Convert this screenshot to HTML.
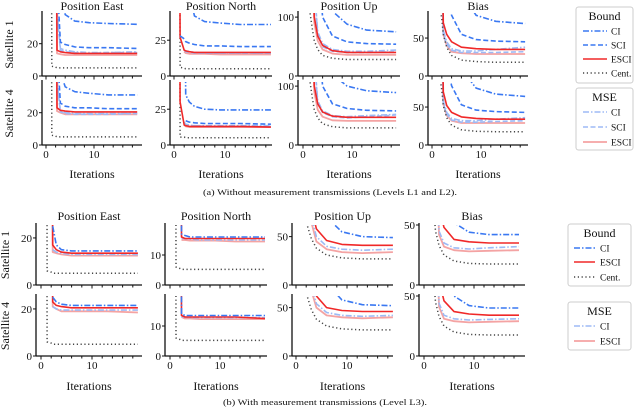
<!DOCTYPE html>
<html><head><meta charset="utf-8">
<style>
html,body{margin:0;padding:0;background:#fff;}
svg{display:block;font-family:"Liberation Serif",serif;}
</style></head>
<body>
<svg id="fig" width="640" height="408" viewBox="0 0 640 408" xmlns="http://www.w3.org/2000/svg"></svg>
<script>
const n = null;
const iterations = [1,1.2,2,2.3,3,4,6,9,13,19];
// (a) without measurement transmissions
const aEastS1 = {ci:[n,n,n,n,60,38,34,33,32.5,32], sci:[n,n,n,60,21,19.5,18,17.5,17.5,17], esci:[n,n,200,16,15,14.5,14,14,14,14], cent:[300,6,5.5,5,5,5,5,5,5,5], mci:[n,n,n,40,17,16,15,14.5,14.5,15], msci:[n,n,n,40,16,15,14.5,14,14.5,14.5], mesci:[n,n,200,14,13.5,13,13,13,13,13]};
const aEastS4 = {ci:[n,n,n,n,45,36,33,32,31,31], sci:[n,n,n,60,26,24,23,23,22.5,22.5], esci:[n,n,200,23,21.5,21,20.5,20.5,20.5,20.5], cent:[300,6,5.5,5,5,5,5,5,5,5], mci:[n,n,n,40,21,20,19.5,19.5,19.5,19.5], msci:[n,n,n,40,20.5,19.5,19,19,19,19.5], mesci:[n,n,200,21,20,19,19,19,19,19]};
const aNorthS1 = {ci:[n,n,n,n,60,42,38,37,36,36], sci:[n,28,26,24,23,22,21,21,20.5,20.5], esci:[200,27,18,17.5,17,16.5,16.5,16.5,16.5,16.5], cent:[300,6,5.5,5,5,5,5,5,5,5], mci:[n,n,18,17.5,17,16.5,16,16,16,16], msci:[n,n,18,17,16.5,16,16,16,16,16], mesci:[n,n,17,16,15.5,15.5,15.5,15,15,15]};
const aNorthS4 = {ci:[n,n,200,35,30,27,25,24.5,24.5,24.5], sci:[n,n,n,17,16,15.5,15,15,15,14.5], esci:[200,30,14,13.5,13,13,13,13,13,12.5], cent:[300,5.5,5.5,5,5,5,5,5,5,5], mci:[n,n,16,14.5,14,13.5,13.5,13.5,13.5,13.5], msci:[n,n,15,14,13.5,13.5,13,13,13,13], mesci:[n,n,14,13,12.5,12.5,12.5,12.5,12.5,12.5]};
const aUpS1 = {ci:[n,n,n,n,n,200,110,88,78,75], sci:[n,n,n,n,200,100,68,58,55,54], esci:[n,n,200,100,68,52,43,40,40,40], cent:[300,120,75,60,45,35,30,28,28,28], mci:[n,n,n,150,75,55,45,42,42,44], msci:[n,n,n,150,70,50,42,40,40,41], mesci:[n,n,150,90,60,45,38,36,36,36]};
const aUpS4 = {ci:[n,n,n,n,n,200,120,100,92,89], sci:[n,n,n,n,200,100,70,62,59,58], esci:[n,n,200,100,70,56,49,47,47,47], cent:[300,120,75,60,46,36,31,29,29,29], mci:[n,n,n,150,75,58,50,48,50,52], msci:[n,n,n,150,70,55,48,46,48,51], mesci:[n,n,150,90,60,48,42,41,41,41]};
const aBiasS1 = {ci:[n,n,n,n,n,n,110,80,72,69], sci:[n,n,n,n,110,80,55,48,46,45], esci:[n,n,200,70,55,45,38,36,35,35], cent:[300,110,75,55,38,27,21,19,18,18], mci:[n,n,150,60,45,36,33,33,35,38], msci:[n,n,150,55,42,34,31,31,31,32], mesci:[n,n,150,55,40,32,30,29,29,29]};
const aBiasS4 = {ci:[n,n,n,n,n,n,100,75,67,64], sci:[n,n,n,n,110,78,53,46,44,43], esci:[n,n,200,70,52,43,37,35,34,34], cent:[300,110,72,52,36,26,20,18,17.5,17.5], mci:[n,n,150,58,43,35,32,32,34,36], msci:[n,n,150,54,41,33,30,30,31,32], mesci:[n,n,150,54,39,32,29,29,29,29]};
// (b) with measurement transmissions
const bEastS1 = {ci:[n,n,n,25,17,15,14.5,14.5,14.5,14.5], esci:[n,n,200,17,15,14,13.5,13.5,13.5,13.5], cent:[300,6,5.5,5,5,5,5,5,5,5], mci:[n,n,n,15,14,13.5,13,13,13,13], mesci:[n,n,200,14,13.5,13,12.5,12.5,12.5,12.5]};
const bEastS4 = {ci:[n,n,n,25,23,22,21.5,21.5,21.5,21.5], esci:[n,n,200,23,21.5,21,20.5,20.5,20.5,20.5], cent:[300,6,5.5,5,5,5,5,5,5,5], mci:[n,n,n,21,20,19.5,19.5,19.5,19.5,19.5], mesci:[n,n,200,21,20,19,19,19,19,18.5]};
const bNorthS1 = {ci:[n,n,200,17,16.5,16,16,16,16,16], esci:[n,n,200,16,15.5,15.5,15.5,15.5,15.5,15.5], cent:[300,6,5.5,5.2,5.2,5.2,5.2,5.2,5.2,5.2], mci:[n,n,n,15.5,15.5,15.3,15,15,15,15], mesci:[n,n,n,15,15,14.8,14.8,14.8,14.5,14.5]};
const bNorthS4 = {ci:[n,n,200,14,13.5,13.5,13.5,13.5,13.5,13.5], esci:[n,n,200,13.5,13,13,13,13,13,12.5], cent:[300,6,5.5,5.2,5.2,5.2,5.2,5.2,5.2,5.2], mci:[n,n,n,13,13,12.8,12.8,12.8,12.8,12.8], mesci:[n,n,n,13,12.5,12.5,12.3,12.3,12.3,12.3]};
const bUpS1 = {ci:[n,n,n,n,n,200,70,55,50,49], esci:[n,n,n,200,80,58,46,42,41,41], cent:[n,300,75,60,48,38,31,28,27,27], mci:[n,n,n,150,70,50,40,37,36,37], mesci:[n,n,n,150,65,45,37,34,33,34]};
const bUpS4 = {ci:[n,n,n,n,n,200,75,58,53,52], esci:[n,n,n,200,85,62,50,47,46,46], cent:[n,300,75,60,48,38,31,28,27,27], mci:[n,n,n,150,72,54,45,42,41,42], mesci:[n,n,n,150,68,50,42,40,39,40]};
const bBiasS1 = {ci:[n,n,n,n,n,200,52,44,42,42], esci:[n,n,n,200,65,48,38,36,35,35], cent:[300,80,60,45,33,25,20,18,17.5,17.5], mci:[n,n,n,150,45,35,31,30,31,32], mesci:[n,n,n,150,42,32,29,28,28.5,29]};
const bBiasS4 = {ci:[n,n,n,n,n,200,50,42,40,40], esci:[n,n,n,200,63,46,37,35,34,34], cent:[300,80,60,45,33,25,20,18,17.5,17.5], mci:[n,n,n,150,44,34,31,30,30.5,31], mesci:[n,n,n,150,41,31,29,28,28.5,29]};

const titlesA = ["Position East","Position North","Position Up","Bias"];
const yTicksA = [[0,20],[0,25],[0,100],[0,50]];
const yTicksB = [[0,20],[0,10],[0,50],[0,50]];
const xTickLabels = [0,10];

const svg = document.getElementById('fig');
const NS = "http://www.w3.org/2000/svg";
function mk(tag, attrs, parent){ const e=document.createElementNS(NS,tag); for(const k in attrs) e.setAttribute(k,attrs[k]); (parent||svg).appendChild(e); return e; }
function txt(x,y,s,size,anchor,parent){ const t=mk('text',{x:x,y:y,'font-size':size,'text-anchor':anchor||'middle',fill:'#111'},parent); t.textContent=s; return t; }

const styles = {
  ci:{c:'#3a78f2',d:'6,2,1.5,2',w:1.6},
  sci:{c:'#3a78f2',d:'5,2.5',w:1.6},
  esci:{c:'#f02828',d:'',w:1.6},
  cent:{c:'#444',d:'1.2,2.6',w:1.5},
  mci:{c:'#9dbaf5',d:'6,2,1.5,2',w:1.6},
  msci:{c:'#9dbaf5',d:'5,2.5',w:1.6},
  mesci:{c:'#f4a3a3',d:'',w:1.8}
};
const drawOrder = ['mesci','msci','mci','cent','esci','sci','ci'];
let clipId = 0;
function panel(name, p, data, yticks, showX){
  const g = mk('g',{});
  
  
  const ys = v => p.b - v/p.ymax*(p.b-p.t);
  const xs = v => p.x0 + v*(p.x10-p.x0)/10;
  const id = 'c'+(clipId++);
  const cp = mk('clipPath',{id:id},g);
  mk('rect',{x:p.l,y:p.t,width:p.r-p.l,height:p.b-p.t},cp);
  const lg = mk('g',{'clip-path':'url(#'+id+')'},g);
  drawOrder.forEach(k=>{
    if(!data[k]) return;
    const s=styles[k]; let d='';
    let pen=false;
    data[k].forEach((v,i)=>{
      if(v===null){pen=false;return;}
      d += (pen?'L':'M') + xs(iterations[i]).toFixed(1)+','+ys(v).toFixed(1);
      pen=true;
    });
    const path = mk('path',{d:d,fill:'none',stroke:s.c,'stroke-width':s.w,'stroke-dasharray':s.d,'stroke-linejoin':'round'},lg);
    
    
  });
  mk('line',{x1:p.l,y1:p.t-2,x2:p.l,y2:p.b,stroke:'#111','stroke-width':1.3},g);
  mk('line',{x1:p.l,y1:p.b,x2:p.r,y2:p.b,stroke:'#111','stroke-width':1.3},g);
  yticks.forEach(v=>{
    mk('line',{x1:p.l-3,y1:ys(v),x2:p.l,y2:ys(v),stroke:'#111','stroke-width':1},g);
    txt(p.l-4,ys(v)+4,String(v),11,'end',g);
  });
  for(let v=0; v<=18; v+=2){
    mk('line',{x1:xs(v),y1:p.b,x2:xs(v),y2:p.b+(v%10===0?3.5:2.5),stroke:'#111','stroke-width':1},g);
  }
  if(showX){
    xTickLabels.forEach(v=>txt(xs(v),p.b+13,String(v),11,'middle',g));
  }
}
const colA = [{l:42,r:142,x0:46,x10:94,ym:39},{l:170,r:272,x0:174,x10:225,ym:44},{l:298,r:400,x0:303,x10:352,ym:107},{l:428,r:528,x0:432,x10:481,ym:83}];
const colB = [{l:36,r:142,x0:41,x10:92,ym:25.5},{l:165,r:267,x0:170,x10:220,ym:20},{l:292,r:393,x0:296,x10:347,ym:62},{l:419,r:525,x0:424,x10:474,ym:50}];
const dataA = [[aEastS1,aEastS4],[aNorthS1,aNorthS4],[aUpS1,aUpS4],[aBiasS1,aBiasS4]];
const dataB = [[bEastS1,bEastS4],[bNorthS1,bNorthS4],[bUpS1,bUpS4],[bBiasS1,bBiasS4]];
const slug = ['east','north','up','bias'];
colA.forEach((c,i)=>{
  panel('panel-a-'+slug[i]+'-sat1',{l:c.l,r:c.r,x0:c.x0,x10:c.x10,t:13,b:76,ymax:c.ym},dataA[i][0],yTicksA[i],false);
  panel('panel-a-'+slug[i]+'-sat4',{l:c.l,r:c.r,x0:c.x0,x10:c.x10,t:82,b:145,ymax:c.ym},dataA[i][1],yTicksA[i],true);
  const t=txt((c.l+c.r)/2,10,titlesA[i],12);  
  const xl=txt((c.l+c.r)/2,178,'Iterations',12);  
});
colB.forEach((c,i)=>{
  panel('panel-b-'+slug[i]+'-sat1',{l:c.l,r:c.r,x0:c.x0,x10:c.x10,t:225,b:285,ymax:c.ym},dataB[i][0],yTicksB[i],false);
  panel('panel-b-'+slug[i]+'-sat4',{l:c.l,r:c.r,x0:c.x0,x10:c.x10,t:296,b:356,ymax:c.ym},dataB[i][1],yTicksB[i],true);
  const t=txt((c.l+c.r)/2,220,titlesA[i],12);  
  const xl=txt((c.l+c.r)/2,390,'Iterations',12);  
});
[[13,44.5,'Satellite 1'],[13,113.5,'Satellite 4'],[9,255,'Satellite 1'],[9,326,'Satellite 4']].forEach(r=>{
  const t=mk('text',{x:0,y:0,'font-size':12,'text-anchor':'middle',fill:'#111',transform:'translate('+r[0]+','+r[1]+') rotate(-90)'});
  t.textContent=r[2];
  
  
});
const capA=txt(330,195,'(a) Without measurement transmissions (Levels L1 and L2).',8.5);
capA.setAttribute('textLength','254'); capA.setAttribute('lengthAdjust','spacingAndGlyphs');
 
const capB=txt(325,405,'(b) With measurement transmissions (Level L3).',8.5);
capB.setAttribute('textLength','204'); capB.setAttribute('lengthAdjust','spacingAndGlyphs');
 

const labels = {ci:'CI',sci:'SCI',esci:'ESCI',cent:'Cent.',mci:'CI',msci:'SCI',mesci:'ESCI'};
function legend(name,x,y,w,h,title,keys,rowY,lx1,lx2,tx){
  const g=mk('g',{});
  
  
  mk('rect',{x:x,y:y,width:w,height:h,rx:2.5,fill:'#fff',stroke:'#ccc','stroke-width':1},g);
  txt(x+w/2,y+13,title,12,'middle',g);
  keys.forEach((k,i)=>{
    const s=styles[k]; const yy=rowY[i];
    mk('line',{x1:lx1,y1:yy,x2:lx2,y2:yy,stroke:s.c,'stroke-width':s.w,'stroke-dasharray':s.d},g);
    const t=txt(tx,yy+3.5,labels[k],9.5,'start',g);
    
    
  });
}
legend('legend-bound-a',576,7,57,76,'Bound',['ci','sci','esci','cent'],[31,45,59,73],583,607,611);
legend('legend-mse-a',576,88,57,62,'MSE',['mci','msci','mesci'],[112,127,142],583,607,611);
legend('legend-bound-b',568,224,63,62,'Bound',['ci','esci','cent'],[248,262,277],574,595,600);
legend('legend-mse-b',568,302,63,48,'MSE',['mci','mesci'],[326,341],574,595,600);
</script>
</body></html>
